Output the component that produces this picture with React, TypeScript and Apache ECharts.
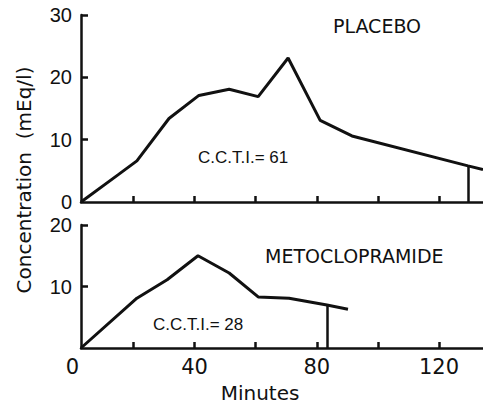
import React, { useEffect, useRef } from "react";
import * as echarts from "echarts";

// Minutes range visible on the axis (y-axis sits at ~2.8 min)
const xMin = 2.8;
const xMax = 134.4;
const xTickValues = [20, 40, 60, 80, 100, 120];
const xLabelValues = [0, 40, 80, 120];

const placeboYLabels = [0, 10, 20, 30];
const placeboYTicks = [10, 20, 30];
const metoYLabels = [10, 20];
const metoYTicks = [10, 20];

const placeboTime = [2.8, 14.9, 21.1, 31.6, 41.4, 51.3, 60.8, 70.6, 81.1, 91.5, 129.5, 134.4];
const placeboConc = [0, 4.35, 6.6, 13.4, 17.1, 18.1, 16.9, 23.1, 13.1, 10.6, 5.8, 5.2];
const placeboCutoff = [129.5, 5.8];

const metoTime = [2.8, 21.1, 31.0, 41.1, 51.3, 60.8, 70.9, 83.3, 90.2];
const metoConc = [0, 8.1, 11.1, 15.0, 12.2, 8.3, 8.1, 7.0, 6.3];
const metoCutoff = [83.3, 7.0];

const placeboTitle = "PLACEBO";
const metoTitle = "METOCLOPRAMIDE";
const placeboIndex = "C.C.T.I.= 61";
const metoIndex = "C.C.T.I.= 28";
const yName = "Concentration  (mEq/l)";
const xName = "Minutes";

const black = "#111111";

export default function App() {
  const ref = useRef<HTMLDivElement>(null);

  useEffect(() => {
    const chart = echarts.init(ref.current!, null, { renderer: "svg" });

    const axisLine = { show: true, lineStyle: { color: black, width: 2.5 } };
    const dataXAxis = (gridIndex: number) => ({
      gridIndex,
      type: "value",
      min: xMin,
      max: xMax,
      axisLine,
      axisTick: {
        show: true,
        inside: true,
        length: 6,
        customValues: xTickValues,
        lineStyle: { color: black, width: 2.5 },
      },
      axisLabel: { show: false },
      splitLine: { show: false },
    });
    const yAxisDef = (gridIndex: number, max: number, labels: number[], ticks: number[]) => ({
      gridIndex,
      type: "value",
      min: 0,
      max,
      axisLine,
      axisTick: {
        show: true,
        inside: true,
        length: 7,
        customValues: ticks,
        lineStyle: { color: black, width: 2.5 },
      },
      axisLabel: {
        show: true,
        customValues: labels,
        color: black,
        fontFamily: "Liberation Sans",
        fontSize: 20,
        margin: 9,
      },
      splitLine: { show: false },
    });
    const lineSeries = (idx: number, t: number[], c: number[], cut: number[]) => ({
      type: "line",
      xAxisIndex: idx,
      yAxisIndex: idx,
      data: t.map((v, i) => [v, c[i]]),
      symbol: "none",
      lineStyle: { color: black, width: 3 },
      markLine: {
        silent: true,
        symbol: ["none", "none"],
        label: { show: false },
        lineStyle: { color: black, width: 2.5, type: "solid" },
        data: [[{ coord: [cut[0], 0] }, { coord: [cut[0], cut[1]] }]],
      },
    });

    const txt = (
      text: string,
      x: number,
      y: number,
      size: number,
      align: string,
      family = "DejaVu Sans",
      rotation = 0
    ) => ({
      type: "text",
      x,
      y,
      rotation,
      style: {
        text,
        fill: black,
        font: `normal ${size}px "${family}"`,
        textAlign: align,
        textVerticalAlign: "middle",
        align,
        verticalAlign: "middle",
      },
    });

    chart.setOption({
      animation: false,
      backgroundColor: "#ffffff",
      grid: [
        { left: 81, right: 0, top: 15, height: 187 },
        { left: 81, right: 0, top: 225, height: 123 },
        { left: 72.4, right: 0, top: 225, height: 123 },
      ],
      xAxis: [
        dataXAxis(0),
        dataXAxis(1),
        {
          gridIndex: 2,
          type: "value",
          min: 0,
          max: xMax,
          axisLine: { show: false },
          axisTick: { show: false },
          splitLine: { show: false },
          axisLabel: {
            show: true,
            customValues: xLabelValues,
            color: black,
            fontFamily: "DejaVu Sans",
            fontSize: 21,
            margin: 8,
          },
        },
      ],
      yAxis: [
        yAxisDef(0, 30, placeboYLabels, placeboYTicks),
        yAxisDef(1, 20, metoYLabels, metoYTicks),
        { gridIndex: 2, type: "value", show: false, min: 0, max: 20 },
      ],
      series: [
        lineSeries(0, placeboTime, placeboConc, placeboCutoff),
        lineSeries(1, metoTime, metoConc, metoCutoff),
      ],
      graphic: [
        txt(placeboTitle, 377, 26, 19, "center"),
        txt(placeboIndex, 198, 157, 17, "left", "Liberation Sans"),
        txt(metoTitle, 265, 256, 19, "left"),
        txt(metoIndex, 153, 324, 17, "left", "Liberation Sans"),
        txt(xName, 260, 393, 20, "center"),
        txt(yName, 24, 180, 20, "center", "DejaVu Sans", Math.PI / 2),
      ],
    });

    return () => chart.dispose();
  }, []);

  return (
    <div
      ref={ref}
      style={{ position: "absolute", left: 0, top: 0, width: 483, height: 406, background: "#fff" }}
    />
  );
}
